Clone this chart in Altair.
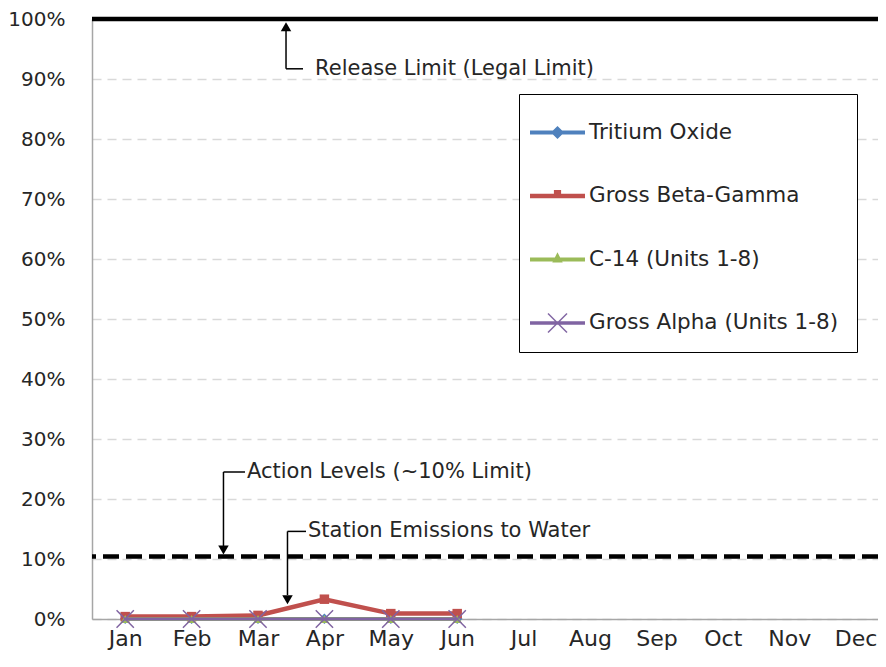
import json
import altair as alt
import pandas as pd

# ---------------- data ----------------
months = ["Jan", "Feb", "Mar", "Apr", "May", "Jun", "Jul", "Aug", "Sep", "Oct", "Nov", "Dec"]
series = ["Tritium Oxide", "Gross Beta-Gamma", "C-14 (Units 1-8)", "Gross Alpha (Units 1-8)"]
colors = ["#4F81BD", "#C0504D", "#9BBB59", "#8064A2"]

tritium = [0.05, 0.05, 0.05, 0.05, 0.05, 0.05]
beta_gamma = [0.4, 0.4, 0.6, 3.3, 0.9, 0.9]
c14 = [0.0, 0.0, 0.0, 0.0, 0.0, 0.0]
alpha = [0.0, 0.0, 0.0, 0.0, 0.0, 0.0]

release_limit = [100.0]
action_level = [10.4]
y_ticks = [0, 10, 20, 30, 40, 50, 60, 70, 80, 90, 100]

ann_text = ["Release Limit (Legal Limit)", "Action Levels (~10% Limit)", "Station Emissions to Water"]
ann_x = [3.86, 2.834, 3.753]
ann_y = [91.7, 24.5, 14.6]

lead_x = [3.422, 3.422, 2.48, 2.48, 3.444, 3.444]
lead_y = [91.7, 91.7, 24.5, 24.5, 14.6, 14.6]
lead_x2 = [3.678, 3.422, 2.804, 2.48, 3.723, 3.444]
lead_y2 = [91.7, 98.5, 24.5, 12.0, 14.6, 4.0]

head_x = [3.422, 2.48, 3.444]
head_y = [98.7, 11.5, 3.2]
head_shape = ["triangle-up", "triangle-down", "triangle-down"]

# ---------------- tables ----------------
values = [tritium, beta_gamma, c14, alpha]
rows = []
for s, vals in zip(series, values):
    for i, v in enumerate(vals):
        rows.append({"series": s, "m": i + 1, "v": v})
df = pd.DataFrame(rows)

ann_df = pd.DataFrame({"t": ann_text, "x": ann_x, "y": ann_y})
lead_df = pd.DataFrame({"x": lead_x, "y": lead_y, "x2": lead_x2, "y2": lead_y2})
head_df = pd.DataFrame({"x": head_x, "y": head_y, "shape": head_shape})

FONT = "DejaVu Sans"
PLOT_W = 786
STEP = 66.4
xscale = alt.Scale(domain=[0.5, 0.5 + PLOT_W / STEP], nice=False, zero=False)
yscale = alt.Scale(domain=[0, 100], nice=False)

month_expr = json.dumps(months) + "[datum.value - 1]"

x_axis = alt.Axis(values=list(range(1, 13)), labelExpr=month_expr, grid=False, ticks=False,
                  domainColor="#a6a6a6", domainWidth=1.5, labelFont=FONT, labelFontSize=22,
                  labelColor="#262626", labelPadding=9, title=None, labelFlush=False)
y_axis = alt.Axis(values=y_ticks, labelExpr="datum.value + '%'", grid=True, gridColor="#d9d9d9",
                  gridDash=[9, 6], gridWidth=1.3, ticks=False, domainColor="#a6a6a6",
                  domainWidth=1.5, labelFont=FONT, labelFontSize=20, labelColor="#262626",
                  labelPadding=27, title=None)

release = alt.Chart(pd.DataFrame({"y": release_limit})).mark_rule(
    color="black", strokeWidth=4.5).encode(
    y=alt.Y("y:Q", scale=yscale, axis=y_axis))
action = alt.Chart(pd.DataFrame({"y": action_level})).mark_rule(
    color="black", strokeWidth=4.5, strokeDash=[16, 7]).encode(
    y=alt.Y("y:Q", scale=yscale))

axis_layer = alt.Chart(df).mark_point(opacity=0).encode(
    x=alt.X("m:Q", scale=xscale, axis=x_axis),
    y=alt.Y("v:Q", scale=yscale))

marker_shapes = ["diamond", "square", "triangle-up", "M-1,-1L1,1M-1,1L1,-1"]
marker_sizes = [110, 90, 90, 300]
line_widths = [3.5, 4.5, 3.5, 3.0]

series_layers = []
for s, c, shp, sz, lw in zip(series, colors, marker_shapes, marker_sizes, line_widths):
    sub = alt.Chart(df).transform_filter(alt.datum.series == s)
    ln = sub.mark_line(strokeWidth=lw, color=c).encode(
        x=alt.X("m:Q", scale=xscale), y=alt.Y("v:Q", scale=yscale))
    if shp.startswith("M"):
        pt = sub.mark_point(shape=shp, filled=False, strokeWidth=1.5, size=sz, color=c, opacity=1)
    else:
        pt = sub.mark_point(shape=shp, filled=True, size=sz, color=c, opacity=1)
    pt = pt.encode(x=alt.X("m:Q", scale=xscale), y=alt.Y("v:Q", scale=yscale))
    series_layers += [ln, pt]

# legend symbols: line + marker (unit = 20px)
legend_paths = [
    "M-1.375,-0.1H1.375V0.1H-1.375Z M0,-0.33L0.33,0L0,0.33L-0.33,0Z",
    "M-1.375,-0.11H1.375V0.11H-1.375Z M-0.18,-0.3H0.18V0H-0.18Z",
    "M-1.375,-0.1H1.375V0.1H-1.375Z M0,-0.36L0.26,0.15H-0.26Z",
    "M-1.375,-0.09H1.375V0.09H-1.375Z M-0.45,-0.5L0.5,0.45L0.45,0.5L-0.5,-0.45Z M-0.5,0.45L0.45,-0.5L0.5,-0.45L-0.45,0.5Z",
]
leg = dict(orient="none", legendX=427, legendY=75, title=None, direction="vertical",
           symbolSize=1600, symbolStrokeWidth=0, symbolOpacity=1, labelFont=FONT,
           labelFontSize=21.5, labelColor="#262626", labelOffset=11.5, labelLimit=0,
           padding=18.5, rowPadding=32.5, strokeColor="black", fillColor="white")
legend_layer = alt.Chart(df).mark_point(filled=True, opacity=0).encode(
    x=alt.X("m:Q", scale=xscale), y=alt.Y("v:Q", scale=yscale),
    color=alt.Color("series:N", scale=alt.Scale(domain=series, range=colors), legend=alt.Legend(**leg)),
    shape=alt.Shape("series:N", scale=alt.Scale(domain=series, range=legend_paths), legend=alt.Legend(**leg)),
)

leads = alt.Chart(lead_df).mark_rule(color="black", strokeWidth=1.5).encode(
    x=alt.X("x:Q", scale=xscale), y=alt.Y("y:Q", scale=yscale),
    x2="x2:Q", y2="y2:Q")
heads = alt.Chart(head_df).mark_point(filled=True, color="black", size=110, opacity=1).encode(
    x=alt.X("x:Q", scale=xscale), y=alt.Y("y:Q", scale=yscale),
    shape=alt.Shape("shape:N", scale=None, legend=None))
texts = alt.Chart(ann_df).mark_text(align="left", baseline="middle", font=FONT, fontSize=21,
                                    color="#262626").encode(
    x=alt.X("x:Q", scale=xscale), y=alt.Y("y:Q", scale=yscale), text="t:N")

chart = alt.layer(axis_layer, release, action, *series_layers, legend_layer, leads, heads, texts).properties(
    width=PLOT_W, height=600,
    autosize=alt.AutoSizeParams(type="none"),
    padding={"left": 84, "top": 11, "right": 0, "bottom": 35},
).configure_view(stroke=None).configure(background="white")

chart.save("out.html", embed_options={"renderer": "svg", "actions": False})
